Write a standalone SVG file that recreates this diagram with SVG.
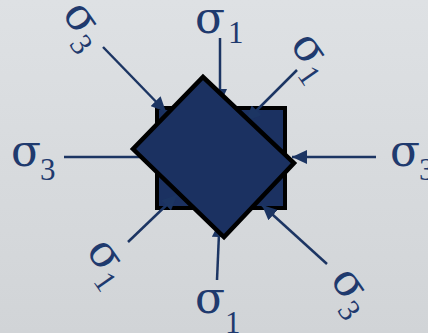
<svg xmlns="http://www.w3.org/2000/svg" width="428" height="333" viewBox="0 0 428 333">
<defs>
<linearGradient id="bg" x1="0" y1="0" x2="0" y2="1">
<stop offset="0" stop-color="#dee1e4"/>
<stop offset="1" stop-color="#d1d4d7"/>
</linearGradient>
<marker id="ah" markerWidth="16" markerHeight="14" refX="15" refY="7" orient="auto" markerUnits="userSpaceOnUse">
<path d="M0,0 L15,7 L0,14 Z" fill="#1c3563"/>
</marker>
<style>
.arr{stroke:#1c3563;stroke-width:2.5;fill:none;marker-end:url(#ah)}
.s{font-family:"DejaVu Serif","Liberation Serif",serif;font-size:44px;fill:#1f3a6e}
.d{font-family:"Liberation Serif","DejaVu Serif",serif;font-size:31px;fill:#1f3a6e}
</style>
</defs>
<rect width="428" height="333" fill="url(#bg)"/>
<g id="square"><rect x="157" y="108" width="128" height="100" fill="#1b3161" stroke="#000" stroke-width="4"/></g>
<g id="connectors">
<line class="arr" x1="220" y1="38" x2="220" y2="104"/>
<line class="arr" x1="103" y1="47" x2="166" y2="112"/>
<line class="arr" x1="297" y1="70" x2="246" y2="121"/>
<line class="arr" x1="64" y1="157" x2="160" y2="157"/>
<line class="arr" x1="376" y1="157" x2="292" y2="157"/>
<line class="arr" x1="128" y1="242" x2="177" y2="195"/>
<line class="arr" x1="217" y1="280" x2="219.5" y2="222"/>
<line class="arr" x1="327" y1="264" x2="262" y2="205"/>
</g>
<g id="diamond"><polygon points="203,77 294,163 224,237 133,149" fill="#1b3161" stroke="#000" stroke-width="4.5" stroke-linejoin="miter"/></g>
<g id="label-top"><text class="s" x="195" y="33">σ</text><text class="d" x="228" y="43">1</text></g>
<g id="label-left"><text class="s" x="11" y="166">σ</text><text class="d" x="40" y="180">3</text></g>
<g id="label-right"><text class="s" x="390" y="166">σ</text><text class="d" x="419" y="180">3</text></g>
<g id="label-bottom"><text class="s" x="195" y="313">σ</text><text class="d" x="225" y="333">1</text></g>
<g id="label-tl" transform="translate(78,19) rotate(55)"><text class="s" x="-14" y="10.5">σ</text><text class="d" x="15" y="22">3</text></g>
<g id="label-tr" transform="translate(306,50) rotate(55)"><text class="s" x="-14" y="10.5">σ</text><text class="d" x="15" y="22">1</text></g>
<g id="label-bl" transform="translate(102,256) rotate(55)"><text class="s" x="-14" y="10.5">σ</text><text class="d" x="15" y="22">1</text></g>
<g id="label-br" transform="translate(346,285) rotate(55)"><text class="s" x="-14" y="10.5">σ</text><text class="d" x="15" y="22">3</text></g>
</svg>
